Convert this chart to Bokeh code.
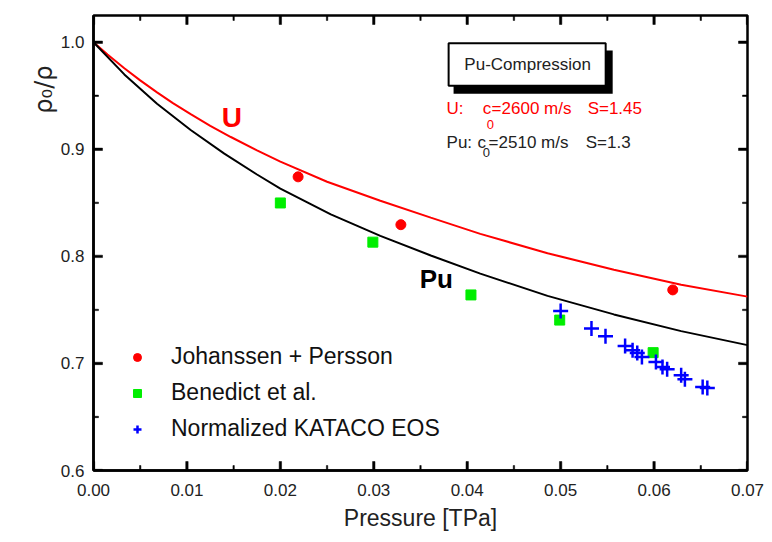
import math
from bokeh.plotting import figure
from bokeh.models import (Range1d, Label, Legend, LegendItem, Title,
                          FixedTicker, NumeralTickFormatter, BoxAnnotation)
from bokeh.embed import file_html
from bokeh.resources import INLINE

# ---- data ----
u_p = [0.0, 0.0015, 0.0033, 0.0050, 0.0068, 0.0085, 0.0104, 0.0125, 0.0147, 0.0175, 0.0200,
       0.0250, 0.0307, 0.0361, 0.0414, 0.0486, 0.0557, 0.0629, 0.0700]
u_r = [1.0, 0.9885, 0.9757, 0.9644, 0.9532, 0.9432, 0.9328, 0.9220, 0.9115, 0.8990, 0.8885,
       0.8697, 0.8520, 0.8362, 0.8210, 0.8030, 0.7875, 0.7735, 0.7624]

pu_p = [0.0, 0.0033, 0.0068, 0.0104, 0.0140, 0.0175, 0.0200, 0.0254, 0.0307, 0.0361, 0.0414,
        0.0486, 0.0557, 0.0629, 0.0700]
pu_r = [1.0, 0.9700, 0.9425, 0.9180, 0.8960, 0.8765, 0.8633, 0.8393, 0.8192, 0.8008, 0.7839,
        0.7631, 0.7458, 0.7302, 0.7171]

jp_p = [0.0219, 0.0329, 0.0620]
jp_r = [0.8743, 0.8296, 0.7687]

ben_p = [0.0200, 0.0299, 0.0404, 0.0499, 0.0599]
ben_r = [0.8499, 0.8133, 0.7640, 0.7405, 0.7101]

kat_p = [0.0500, 0.0533, 0.0548, 0.0569, 0.0577, 0.0582, 0.0587, 0.0602, 0.0609,
         0.0614, 0.0629, 0.0633, 0.0652, 0.0657]
kat_r = [0.7490, 0.7327, 0.7255, 0.7164, 0.7124, 0.7098, 0.7061, 0.7014, 0.6967,
         0.6946, 0.6889, 0.6852, 0.6779, 0.6770]

legend_labels = ["Johanssen + Persson", "Benedict et al.", "Normalized KATACO EOS"]

x_ticks = [0.00, 0.01, 0.02, 0.03, 0.04, 0.05, 0.06, 0.07]
x_minor = [0.005, 0.015, 0.025, 0.035, 0.045, 0.055, 0.065]
y_ticks = [0.6, 0.7, 0.8, 0.9, 1.0]
y_minor = [0.65, 0.75, 0.85, 0.95]

FONT = "Liberation Sans"
X0, X1, Y0, Y1 = 0.0, 0.07, 0.6, 1.025
W, H = 772, 542
BL, BR, BT, BB = 93, 25, 15, 72

p = figure(width=W, height=H, x_range=Range1d(X0, X1), y_range=Range1d(Y0, Y1),
           output_backend="svg", toolbar_location=None,
           min_border_left=BL, min_border_right=BR, min_border_top=BT, min_border_bottom=BB,
           x_axis_label="Pressure [TPa]")
p.grid.visible = False
p.outline_line_color = "black"
p.outline_line_width = 2.5

for ax, tk, fmt, so in ((p.xaxis[0], x_ticks, "0.00", 13), (p.yaxis[0], y_ticks, "0.0", 9)):
    ax.ticker = FixedTicker(ticks=tk)
    ax.formatter = NumeralTickFormatter(format=fmt)
    ax.axis_line_width = 2.5
    ax.axis_line_color = "black"
    ax.major_tick_line_color = None
    ax.minor_tick_line_color = None
    ax.major_tick_in = 0
    ax.major_tick_out = 0
    ax.minor_tick_in = 0
    ax.minor_tick_out = 0
    ax.major_label_text_font = FONT
    ax.major_label_text_font_size = "17px"
    ax.major_label_text_color = "#222222"
    ax.major_label_standoff = so
p.xaxis.axis_label_text_font = FONT
p.xaxis.axis_label_text_font_size = "23px"
p.xaxis.axis_label_text_font_style = "normal"
p.xaxis.axis_label_text_color = "#222222"
p.xaxis.axis_label_standoff = 6

p.line(u_p, u_r, line_color="#ff0000", line_width=2)
p.line(pu_p, pu_r, line_color="black", line_width=2)

# inward ticks on all four sides, as small box annotations inside the frame
fw = W - BL - BR
fh = H - BT - BB
dy = (Y1 - Y0) / fh
dx = (X1 - X0) / fw
def tick_box(l, r, b, t):
    p.add_layout(BoxAnnotation(left=l, right=r, bottom=b, top=t, fill_color="black",
                               fill_alpha=1, line_color="black", line_alpha=1, line_width=0.5))
def add_ticks(xt, yt, L, hw):
    for t in xt:
        tick_box(t - hw * dx, t + hw * dx, Y0, Y0 + L * dy)
        tick_box(t - hw * dx, t + hw * dx, Y1 - L * dy, Y1)
    for t in yt:
        tick_box(X0, X0 + L * dx, t - hw * dy, t + hw * dy)
        tick_box(X1 - L * dx, X1, t - hw * dy, t + hw * dy)
add_ticks(x_ticks, y_ticks, 9, 1.2)
add_ticks(x_minor, y_minor, 5, 0.7)

r1 = p.scatter(jp_p, jp_r, marker="circle", size=10, fill_color="#ff0000", line_color="#ff0000")
r2 = p.scatter(ben_p, ben_r, marker="square", size=10, fill_color="#00ee00", line_color="#00ee00")
r3 = p.scatter(kat_p, kat_r, marker="cross", size=15, line_color="#0000ff", line_width=2.5)

leg = Legend(items=[LegendItem(label=legend_labels[0], renderers=[r1]),
                    LegendItem(label=legend_labels[1], renderers=[r2]),
                    LegendItem(label=legend_labels[2], renderers=[r3])],
             location=(34, 28), border_line_alpha=0, background_fill_alpha=0,
             label_text_font=FONT, label_text_font_size="23px", label_text_color="#111111",
             glyph_width=20, glyph_height=26, label_height=26, spacing=9,
             label_standoff=24, padding=0, margin=0)
p.add_layout(leg)

# y-axis label as a left-side title near the top
p.add_layout(Title(text="ρ₀/ρ", align="right", offset=50, standoff=0,
                   text_font="DejaVu Sans", text_font_size="24px", text_color="#222222",
                   text_font_style="normal"), "left")

# curve labels
p.add_layout(Label(x=0.0148, y=0.9294, text="U", text_font=FONT, text_font_size="28px",
                   text_font_style="bold", text_color="#ff0000",
                   text_align="center", text_baseline="middle"))
p.add_layout(Label(x=0.0367, y=0.7788, text="Pu", text_font=FONT, text_font_size="26px",
                   text_font_style="bold", text_color="black",
                   text_align="center", text_baseline="middle"))

# title box with shadow
p.add_layout(BoxAnnotation(left=0.03854, right=0.05557, top=0.99221, bottom=0.95188,
                           fill_color="black", fill_alpha=1, line_alpha=0))
p.add_layout(BoxAnnotation(left=0.03801, right=0.05482, top=0.99906, bottom=0.95938,
                           fill_color="white", fill_alpha=1, line_color="black", line_width=2,
                           line_alpha=1))
p.add_layout(Label(x=0.04647, y=0.97908, text="Pu-Compression", text_font=FONT,
                   text_font_size="17px", text_color="#222222",
                   text_align="center", text_baseline="middle"))

def param_line(y, ysub, color, parts):
    for (x, txt, sub) in parts:
        p.add_layout(Label(x=x, y=ysub if sub else y, text=txt, text_font=FONT,
                           text_font_size="13px" if sub else "17px", text_color=color,
                           text_align="left", text_baseline="middle"))

param_line(0.9378, 0.9228, "#ff0000",
           [(0.03779, "U:", False), (0.04165, "c", False), (0.04208, "0", True),
            (0.04261, "=2600 m/s", False), (0.05289, "S=1.45", False)])
param_line(0.9068, 0.8968, "#222222",
           [(0.03779, "Pu:", False), (0.04111, "c", False), (0.04165, "0", True),
            (0.04229, "=2510 m/s", False), (0.05268, "S=1.3", False)])

open("out.html", "w").write(file_html(p, INLINE))
